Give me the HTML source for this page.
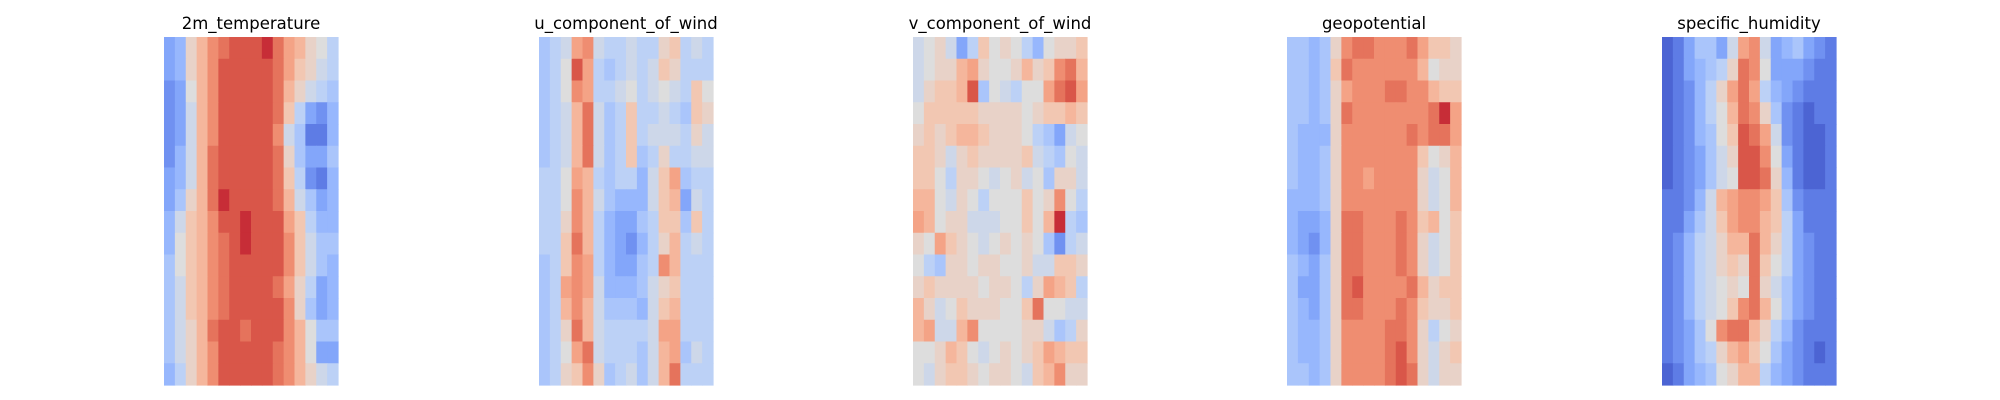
<!DOCTYPE html>
<html><head><meta charset="utf-8"><style>
html,body{margin:0;padding:0;background:#fff;}
svg{display:block;}
text{font-family:"DejaVu Sans","Liberation Sans",sans-serif;font-size:16.5px;fill:#000;}
</style></head><body>
<svg id="chart" width="2000" height="400" viewBox="0 0 2000 400" xmlns="http://www.w3.org/2000/svg"></svg>
<script>
const titles = ["2m_temperature","u_component_of_wind","v_component_of_wind","geopotential","specific_humidity"];
const panelLeft = [164,539,913,1287,1662];
const tempGrid = [
[-5,-4,1,3,5,6,7,7,7,8,6,4,3,1,0,-2],
[-5,-4,1,3,5,7,7,7,7,7,6,4,2,1,-1,-2],
[-6,-5,0,3,5,7,7,7,7,7,6,3,1,-1,-2,-3],
[-6,-5,-1,3,5,7,7,7,7,7,6,2,-2,-5,-6,-4],
[-6,-5,-1,3,5,7,7,7,7,7,5,-1,-3,-7,-7,-4],
[-6,-4,-1,3,6,7,7,7,7,7,6,1,-3,-5,-5,-3],
[-5,-4,-1,3,6,7,7,7,7,7,6,2,-2,-6,-7,-4],
[-5,-3,1,3,6,8,7,7,7,7,6,3,-1,-3,-5,-4],
[-4,-1,2,3,5,7,7,8,7,7,7,4,2,-2,-4,-4],
[-4,0,2,3,5,6,7,8,7,7,7,5,2,-1,-3,-3],
[-3,0,2,3,5,6,7,7,7,7,7,5,2,-1,-3,-4],
[-3,-1,2,3,5,6,7,7,7,7,6,4,1,-2,-5,-4],
[-3,-1,2,3,5,6,7,7,7,7,7,5,1,-3,-5,-4],
[-3,-1,1,3,6,7,7,6,7,7,7,5,3,0,-3,-3],
[-3,-1,1,3,5,7,7,7,7,7,6,5,3,0,-5,-5],
[-4,-2,1,3,5,7,7,7,7,7,6,5,3,1,-1,-2]];
const uGrid = [
[-3,-2,-1,4,5,-1,-2,-2,-1,-2,-2,1,2,-2,-1,-2],
[-3,-2,0,7,4,-2,-3,-2,-1,-2,-1,2,1,-2,-2,-2],
[-3,-2,0,5,4,-2,-2,-1,0,-2,-1,0,-1,-2,2,0],
[-3,-2,-1,3,6,-1,-3,-2,2,-2,-2,-1,-2,-3,2,1],
[-3,-2,-1,3,6,-1,-3,-2,2,-2,-1,-1,-1,-2,1,-1],
[-3,-2,-1,3,6,-1,-3,-2,2,-3,-2,1,-2,-2,-1,-1],
[-2,-2,0,4,3,-2,-3,-2,-2,-4,-1,2,4,-3,-2,-2],
[-2,-2,0,5,3,-1,-3,-4,-4,-4,-1,2,3,-5,-1,-2],
[-2,-2,1,5,3,-2,-4,-5,-5,-3,-2,2,2,-3,2,-2],
[-2,-2,2,6,3,-2,-4,-5,-6,-4,-2,1,3,-2,-1,-2],
[-3,-2,2,5,4,-2,-4,-5,-5,-3,-2,5,3,-2,-2,-2],
[-3,-2,4,5,4,-1,-4,-4,-4,-3,-1,1,2,-2,-2,-2],
[-3,-2,3,5,3,-1,-3,-3,-3,-4,-1,2,3,-2,-2,-2],
[-3,-2,1,6,3,-1,-2,-2,-2,-2,-1,4,4,-2,-2,-2],
[-3,-2,0,4,6,-1,-2,-2,-2,-3,-1,3,4,-3,-1,-2],
[-3,-2,1,2,5,1,-3,-2,-1,-3,-1,3,6,-2,-2,-2]];
const vGrid = [
[-1,0,1,-1,-5,-2,2,0,1,0,-2,-4,0,1,1,2],
[-1,0,1,1,3,4,1,0,0,1,3,1,2,5,6,3],
[-1,1,2,2,3,7,-3,0,-1,-2,0,0,4,6,7,4],
[0,2,2,2,2,2,1,1,1,1,0,1,2,2,3,2],
[1,2,1,2,3,3,2,1,1,1,0,-2,-3,-5,-1,0],
[2,2,1,-1,1,2,1,1,1,1,2,-1,-2,-3,0,-1],
[2,2,0,-2,1,1,0,-1,0,1,-1,0,-3,1,1,-1],
[3,3,0,-1,1,0,-2,0,0,0,2,0,1,5,0,-2],
[4,3,0,1,1,-1,-1,-1,0,0,2,0,3,8,-2,-3],
[1,0,4,2,1,0,-1,0,1,0,1,0,-3,-6,-2,-1],
[0,-2,-3,1,1,0,1,1,0,0,1,-1,-1,2,2,1],
[1,2,1,1,1,1,0,1,1,0,-2,1,4,3,2,-2],
[3,1,-1,0,2,1,1,1,0,0,2,6,0,0,-1,-1],
[3,4,-1,-1,3,5,0,0,0,0,1,1,-1,-3,-2,1],
[0,0,1,3,2,0,-1,0,1,0,1,2,4,3,2,2],
[0,-1,1,2,2,1,0,1,1,0,-1,2,3,5,1,1]];
const geoGrid = [
[-3,-3,-4,-3,1,5,6,6,5,5,5,6,4,2,2,1],
[-3,-3,-4,-3,2,6,5,5,5,5,5,5,3,0,1,1],
[-3,-3,-4,-3,1,4,5,5,5,6,6,5,5,3,2,2],
[-3,-3,-4,-3,1,6,5,5,5,5,5,5,5,6,8,4],
[-3,-4,-4,-4,1,5,5,5,5,5,5,6,5,6,6,4],
[-3,-4,-4,-3,1,5,5,5,5,5,5,5,2,0,1,3],
[-3,-4,-4,-3,1,5,5,4,5,5,5,5,1,-1,0,3],
[-4,-4,-4,-3,1,5,5,5,5,5,5,5,1,-1,0,3],
[-4,-5,-5,-4,1,6,6,5,5,5,6,5,2,3,0,2],
[-4,-5,-6,-4,1,6,6,5,5,5,6,5,1,-1,0,2],
[-3,-4,-5,-3,1,6,6,5,5,5,6,5,1,-1,0,2],
[-3,-5,-5,-3,1,6,7,5,5,5,5,6,3,1,2,2],
[-3,-4,-5,-3,1,6,6,5,5,5,6,5,2,1,1,2],
[-3,-4,-4,-3,1,5,5,5,5,6,6,5,1,-2,0,1],
[-3,-4,-4,-3,1,5,5,5,5,6,7,5,1,-1,1,2],
[-3,-3,-4,-3,1,5,5,5,5,6,7,6,1,-1,1,1]];
const humGrid = [
[-8,-7,-5,-3,-3,-5,-1,4,5,-1,-5,-4,-3,-5,-6,-7],
[-8,-7,-5,-4,-3,-2,1,6,5,0,-5,-5,-5,-6,-7,-7],
[-8,-7,-6,-4,-2,1,4,6,4,-2,-4,-5,-6,-7,-7,-7],
[-8,-7,-6,-4,-2,0,3,6,5,1,-3,-6,-7,-8,-7,-7],
[-8,-7,-6,-4,-3,0,2,7,6,4,-1,-6,-7,-8,-8,-7],
[-8,-7,-6,-5,-3,-1,1,7,7,5,0,-5,-7,-8,-8,-7],
[-8,-7,-6,-5,-3,-1,0,7,7,6,1,-4,-7,-8,-8,-7],
[-7,-7,-6,-4,-1,3,4,5,5,4,2,-3,-6,-7,-7,-7],
[-7,-7,-5,-3,-1,2,4,5,5,3,2,-2,-5,-7,-7,-7],
[-7,-6,-4,-2,-1,1,3,3,6,3,1,-2,-5,-6,-7,-7],
[-7,-6,-4,-2,-1,1,2,1,6,2,0,-2,-5,-6,-7,-7],
[-7,-6,-4,-2,-1,0,1,0,6,1,-1,-3,-5,-6,-7,-7],
[-7,-6,-4,-2,-1,0,2,5,6,3,0,-3,-5,-6,-7,-7],
[-7,-6,-5,-3,0,5,6,6,3,1,-2,-4,-6,-7,-7,-7],
[-7,-6,-5,-3,-2,1,3,4,2,0,-3,-5,-6,-7,-8,-7],
[-8,-7,-5,-4,-3,0,1,3,3,-2,-4,-5,-6,-7,-7,-7]];
const grids = [tempGrid,uGrid,vGrid,geoGrid,humGrid];

const PW = 174, PT = 37, PH = 348;
const stops = [[59,76,192],[98,130,234],[141,176,254],[184,208,249],[221,221,221],[245,196,173],[244,154,123],[222,96,77],[180,4,38]];
function color(v){
  let t = (Math.max(-9,Math.min(9,v))+9)/18*8;
  let i = Math.min(7,Math.floor(t)), f = t-i;
  const a = stops[i], b = stops[i+1];
  return 'rgb('+a.map((c,k)=>Math.round(c+(b[k]-c)*f)).join(',')+')';
}
const NS = 'http://www.w3.org/2000/svg';
const svg = document.getElementById('chart');
grids.forEach((g,p)=>{
  const grp = document.createElementNS(NS,'g');
  
  
  const rows = g.length, cols = g[0].length;
  const cw = PW/cols, ch = PH/rows;
  const xs = c => panelLeft[p] + c*cw;
  const ys = r => PT + r*ch;
  g.forEach((row,r)=>row.forEach((v,c)=>{
    const rect = document.createElementNS(NS,'rect');
    rect.setAttribute('x', xs(c));
    rect.setAttribute('y', ys(r));
    rect.setAttribute('width', cw+0.6);
    rect.setAttribute('height', ch+0.6);
    rect.setAttribute('fill', color(v));
    
    
    grp.appendChild(rect);
  }));
  const t = document.createElementNS(NS,'text');
  t.setAttribute('x', panelLeft[p]+PW/2);
  t.setAttribute('y', 29);
  t.setAttribute('text-anchor','middle');
  t.textContent = titles[p];
  
  
  grp.appendChild(t);
  svg.appendChild(grp);
});
</script>
</body></html>
